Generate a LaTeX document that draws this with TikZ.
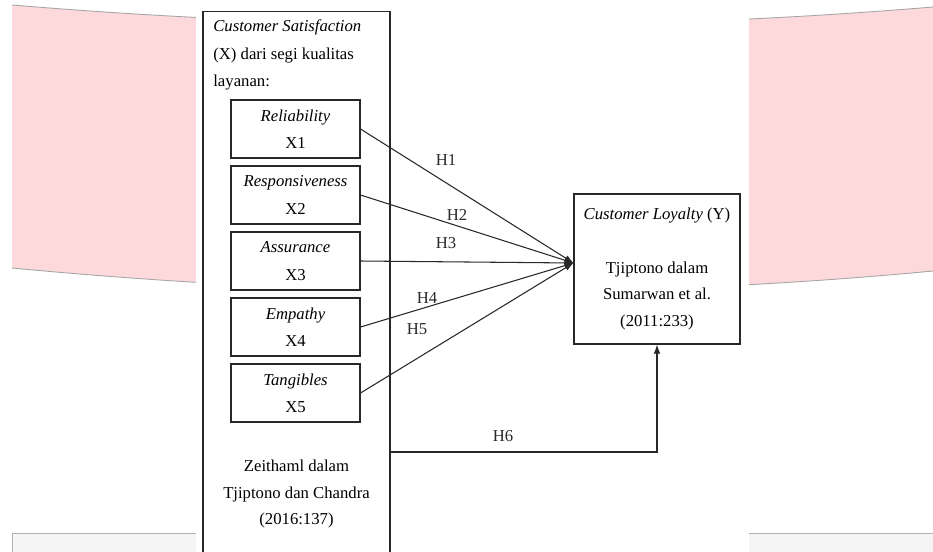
\documentclass[tikz,border=0pt]{standalone}
\usepackage{fontspec}
\setmainfont{Liberation Serif}
\usetikzlibrary{arrows.meta}
\definecolor{bgpink}{RGB}{253,217,219}
\definecolor{ink}{RGB}{40,40,40}
\tikzset{
  frame/.style={draw=ink,line width=0.6pt,inner sep=0pt},
  dim/.style={frame,minimum width=2.58cm,minimum height=1.16cm,align=center,font=\fontsize{9.5}{15.6}\selectfont},
  hyp/.style={font=\fontsize{9.5}{12}\selectfont,text=ink},
  link/.style={draw=ink,line width=0.6pt,-{Latex[length=1.8mm,width=1.3mm]}}
}

\begin{document}
\begin{tikzpicture}
  \useasboundingbox (0,0) rectangle (18.66,11.02);
  % slide background behind the figure
  \fill[bgpink] (0.24,10.92) .. controls (6.38,10.41) and (12.52,10.37) .. (18.66,10.88)
    -- (18.66,5.60) .. controls (12.52,5.016) and (6.38,5.076) .. (0.24,5.66) -- cycle;
  \draw[gray!70,line width=0.5pt] (0.24,10.92) .. controls (6.38,10.41) and (12.52,10.37) .. (18.66,10.88);
  \draw[gray!70,line width=0.5pt] (0.24,5.66) .. controls (6.38,5.076) and (12.52,5.016) .. (18.66,5.60);
  \draw[gray!60,fill=gray!8] (0.24,-0.1) -- (0.24,0.36) -- (18.8,0.36) -- (18.8,-0.1);
  \fill[white] (3.92,-0.1) rectangle (14.98,11.1);

  % X side
  \node[frame,minimum width=3.74cm,minimum height=11cm,anchor=north] (sat) at (5.93,10.806) {};
  \node[anchor=west,align=left,inner sep=0pt,font=\fontsize{9.5}{15.6}\selectfont] (sathead) at (4.26,9.92)
    {\textit{Customer Satisfaction}\\(X) dari segi kualitas\\layanan:};
  \foreach \nm/\lab [count=\i] in {Reliability/X1,Responsiveness/X2,Assurance/X3,Empathy/X4,Tangibles/X5}
    \node[dim] (x\i) at (5.91,{9.76-1.32*\i}) {\textit{\nm}\\\lab};
  \node[align=center,inner sep=0pt,font=\fontsize{9.5}{15}\selectfont] (satsrc) at (5.93,1.14)
    {Zeithaml dalam\\Tjiptono dan Chandra\\(2016:137)};

  % Y side
  \node[frame,minimum width=3.32cm,minimum height=3cm,align=center,font=\fontsize{9.5}{15.3}\selectfont] (loy) at (13.14,5.64)
    {\textit{Customer Loyalty} (Y)\\[15.3pt]Tjiptono dalam\\Sumarwan et al.\\(2011:233)};

  \coordinate (hub) at ([yshift=0.12cm]loy.west);
  \coordinate (satout) at (7.80,1.98);
  \foreach \i in {1,...,5}
    \draw[link] (x\i.east) -- (hub);
  \draw[link] (satout) -| (loy.south);
  \foreach \i/\x/\y in {1/8.92/7.82,2/9.14/6.72,3/8.92/6.16,4/8.54/5.06,5/8.34/4.44,6/10.06/2.30}
    \node[hyp] (h\i) at (\x,\y) {H\i};
\end{tikzpicture}
\end{document}
